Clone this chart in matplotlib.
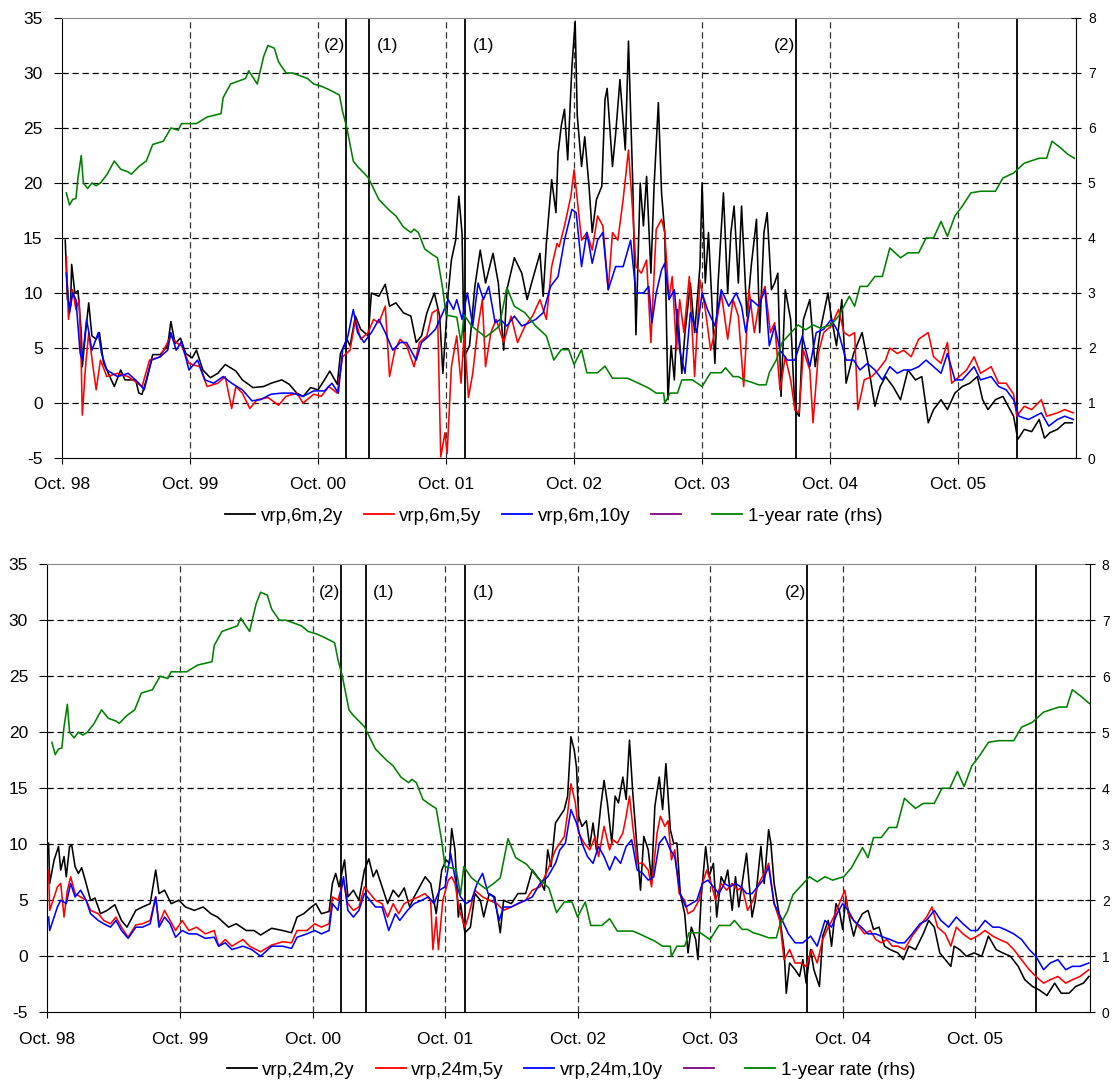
import matplotlib
matplotlib.use('Agg')
import matplotlib.pyplot as plt
from matplotlib.lines import Line2D

plt.rcParams['font.family'] = ['Liberation Sans', 'DejaVu Sans']
plt.rcParams['axes.unicode_minus'] = False

# time axis: months since Oct. 1998
month_ticks = [0, 12, 24, 36, 48, 60, 72, 84]
month_labels = ['Oct. 98', 'Oct. 99', 'Oct. 00', 'Oct. 01', 'Oct. 02', 'Oct. 03', 'Oct. 04', 'Oct. 05']
events = [26.6, 28.8, 37.8, 68.8, 89.5]
event_tags = ['(2)', '(1)', '(1)', '(2)', '']

# 1-year rate, right axis (%)
rate_1y = [(0.4,4.82),(0.7,4.6),(1.0,4.7),(1.3,4.72),(1.5,5.1),(1.8,5.5),(2.0,5.0),(2.4,4.9),(2.8,5.0),(3.2,4.95),
           (3.6,5.0),(4.2,5.15),(4.9,5.4),(5.5,5.25),(6.2,5.2),(6.5,5.16),(7.2,5.3),(7.9,5.4),(8.5,5.7),(9.5,5.76),
           (10.2,6.0),(10.9,5.96),(11.2,6.08),(12.6,6.08),(13.6,6.2),(14.9,6.26),(15.1,6.55),(15.8,6.8),(16.5,6.85),
           (17.2,6.9),(17.5,7.04),(18.3,6.8),(18.9,7.3),(19.3,7.5),(19.9,7.45),(20.3,7.2),(21.0,7.0),(21.6,7.0),
           (23.0,6.9),(23.6,6.8),(24.3,6.76),(25.0,6.7),(26.0,6.6),(26.3,6.3),(26.7,6.0),(27.3,5.4),(27.7,5.3),
           (28.7,5.1),(29.2,4.9),(29.7,4.7),(30.7,4.5),(31.3,4.4),(32.0,4.2),(32.7,4.1),(33.0,4.16),(33.4,4.1),
           (34.0,3.8),(34.7,3.7),(35.2,3.64),(35.7,3.06),(36.0,2.6),(37.0,2.56),(37.4,2.1),(37.7,2.6),(38.4,2.4),
           (39.7,2.2),(40.4,2.3),(41.0,2.4),(41.7,3.1),(42.4,2.76),(43.4,2.64),(44.4,2.4),(45.4,2.22),(46.1,1.78),
           (46.8,1.97),(47.5,1.97),(48.0,1.7),(48.7,1.97),(49.2,1.55),(50.2,1.55),(50.9,1.67),(51.6,1.45),(53.0,1.45),
           (53.6,1.4),(55.0,1.27),(55.7,1.18),(56.4,1.18),(56.5,1.0),(57.0,1.18),(57.7,1.18),(58.1,1.42),(59.1,1.42),
           (60.0,1.3),(60.8,1.55),(61.8,1.55),(62.2,1.64),(62.9,1.48),(63.4,1.48),(63.9,1.42),(64.6,1.38),(65.3,1.33),
           (66.0,1.33),(66.3,1.55),(67.0,1.8),(67.5,2.1),(68.3,2.27),(69.0,2.42),(69.7,2.33),(70.4,2.42),(71.1,2.36),
           (72.1,2.42),(72.8,2.58),(73.8,2.94),(74.3,2.76),(74.8,3.12),(75.5,3.12),(76.2,3.3),(76.9,3.3),(77.6,3.82),
           (78.6,3.64),(79.3,3.73),(80.3,3.73),(81.0,4.0),(81.7,4.0),(82.4,4.3),(83.0,4.03),(83.7,4.4),(84.4,4.58),
           (85.2,4.82),(86.1,4.85),(87.5,4.85),(88.2,5.09),(89.2,5.18),(90.2,5.36),(91.6,5.45),(92.3,5.45),(92.8,5.76),
           (93.6,5.64),(94.3,5.52),(94.9,5.45)]

# vrp, 6-month horizon
vrp_6m_2y = [(0.3,14.8),(0.5,9.4),(0.8,8.8),(0.9,12.6),(1.2,10.0),(1.5,10.2),(1.8,6.4),(1.9,3.3),(2.2,6.4),(2.5,9.1),
             (2.8,6.1),(3.2,5.8),(3.5,6.4),(3.9,3.6),(4.2,3.0),(4.9,1.5),(5.5,3.0),(5.9,2.1),(6.9,2.1),(7.2,0.9),
             (7.5,0.8),(7.9,2.1),(8.5,4.4),(9.2,4.4),(9.9,5.2),(10.2,7.4),(10.6,5.4),(11.1,5.9),(11.6,4.5),(12.2,4.1),
             (12.6,4.8),(13.2,3.0),(13.9,2.3),(14.6,2.7),(15.3,3.5),(16.3,2.9),(16.9,2.1),(17.9,1.4),(18.9,1.5),
             (19.6,1.8),(20.6,2.1),(21.3,1.7),(22.0,0.9),(22.6,0.6),(23.3,1.4),(24.0,1.2),(24.6,2.1),(25.1,2.9),
             (25.8,1.7),(26.1,4.5),(26.7,5.8),(27.0,5.2),(27.5,7.9),(28.0,6.7),(28.7,6.1),(29.0,10.0),(29.7,9.7),
             (30.3,10.8),(30.7,8.8),(31.3,9.1),(32.0,8.2),(32.7,7.9),(33.2,5.5),(33.7,6.1),(34.2,8.2),(34.9,10.0),
             (35.4,7.9),(35.7,2.7),(36.2,10.0),(36.5,13.0),(36.9,14.8),(37.2,18.8),(37.5,15.4),(37.7,4.2),(38.2,5.2),
             (38.7,10.6),(39.2,13.9),(39.7,10.9),(40.4,13.6),(40.9,10.9),(41.4,4.8),(41.7,10.3),(42.4,13.2),(43.1,11.8),
             (43.6,9.4),(44.1,11.2),(44.8,13.6),(45.1,9.7),(45.4,14.5),(45.9,20.3),(46.3,17.3),(46.5,22.7),(46.8,25.2),
             (47.1,26.7),(47.4,22.1),(47.8,30.6),(48.1,34.7),(48.3,26.1),(48.7,21.5),(49.0,24.2),(49.4,19.7),(49.7,15.5),
             (50.1,18.5),(50.6,19.7),(50.9,27.6),(51.1,28.6),(51.6,21.5),(51.9,24.5),(52.3,29.4),(52.8,23.0),(53.1,32.9),
             (53.5,20.0),(53.8,6.2),(54.2,20.0),(54.5,16.1),(54.8,20.6),(55.2,11.8),(55.5,19.7),(55.9,27.3),(56.2,19.1),
             (56.5,15.5),(56.8,0.3),(57.1,5.2),(57.4,2.1),(57.7,8.5),(58.1,2.7),(58.4,6.4),(58.9,10.9),(59.3,6.4),
             (59.8,12.4),(60.0,20.0),(60.3,10.9),(60.6,15.5),(61.2,3.6),(61.5,10.9),(62.0,19.1),(62.4,10.0),(62.7,15.5),
             (63.0,17.9),(63.4,10.9),(63.7,17.9),(64.2,7.9),(64.6,12.4),(65.1,16.7),(65.4,6.4),(65.8,15.5),(66.1,17.3),
             (66.5,10.3),(66.8,10.9),(67.1,11.8),(67.4,0.6),(67.8,10.3),(68.3,7.6),(68.7,-0.6),(69.1,-1.2),(69.5,7.6),
             (70.1,9.4),(70.6,3.3),(71.1,6.7),(71.8,10.0),(72.1,7.9),(72.6,5.2),(73.1,9.4),(73.5,1.8),(74.2,4.5),
             (75.0,6.4),(75.5,3.9),(76.2,-0.3),(76.7,1.5),(77.2,2.4),(77.9,1.5),(78.6,0.3),(79.3,3.0),(80.0,2.1),
             (80.6,2.4),(81.2,-1.8),(81.7,-0.6),(82.4,0.3),(83.0,-0.6),(83.7,0.9),(84.4,1.5),(85.1,1.8),(85.8,2.4),
             (86.3,0.3),(86.8,-0.6),(87.5,0.3),(88.2,0.6),(88.7,-0.3),(89.2,-1.2),(89.6,-3.3),(90.2,-2.4),(90.9,-2.6),
             (91.6,-1.5),(92.1,-3.2),(92.6,-2.7),(93.3,-2.4),(94.0,-1.8),(94.7,-1.8)]

vrp_6m_5y = [(0.4,13.3),(0.6,7.6),(1.0,10.3),(1.3,8.5),(1.6,9.4),(1.8,3.6),(1.9,-1.1),(2.2,3.3),(2.5,6.4),(2.9,3.3),
             (3.2,1.2),(3.6,3.9),(4.2,2.4),(5.2,2.7),(6.2,2.4),(7.5,1.5),(8.2,3.9),(9.2,4.2),(10.2,6.1),(10.7,5.5),
             (11.2,5.2),(11.9,3.6),(12.9,3.3),(13.6,1.5),(14.6,1.8),(15.3,2.4),(15.9,-0.5),(16.3,1.5),(16.9,0.9),
             (17.6,-0.5),(18.3,0.3),(19.3,0.5),(20.3,-0.2),(21.0,0.6),(22.0,0.9),(22.6,0.0),(23.6,0.8),(24.3,0.6),
             (25.0,1.5),(25.8,0.9),(26.3,4.2),(27.0,4.8),(27.5,7.6),(28.0,5.8),(28.7,6.4),(29.2,7.6),(29.7,7.3),
             (30.3,8.8),(30.7,2.4),(31.2,4.8),(31.7,5.8),(32.3,5.2),(33.0,3.3),(33.5,5.5),(34.2,6.1),(34.7,8.2),
             (35.2,8.5),(35.5,-4.9),(35.9,-2.7),(36.1,-4.6),(36.5,3.3),(37.0,6.1),(37.4,1.8),(37.7,6.4),(38.1,0.5),
             (38.5,2.7),(39.0,7.0),(39.4,9.4),(39.7,3.3),(40.2,6.4),(40.7,7.6),(41.4,5.5),(42.1,7.9),(42.7,5.5),
             (43.4,7.0),(44.1,7.9),(44.8,9.4),(45.4,7.6),(45.9,12.4),(46.4,14.5),(46.6,14.2),(47.1,16.1),(47.7,18.8),
             (48.0,21.2),(48.3,18.5),(48.7,14.8),(49.2,15.5),(49.7,13.9),(50.2,17.0),(50.7,16.1),(51.2,10.3),(51.6,15.5),
             (52.1,14.8),(52.6,18.5),(53.1,23.0),(53.5,17.3),(53.8,12.4),(54.3,11.8),(54.8,13.0),(55.2,5.5),(55.7,15.8),
             (56.2,16.7),(56.5,15.5),(56.9,9.4),(57.2,11.5),(57.6,4.8),(57.9,9.4),(58.3,6.4),(58.8,11.5),(59.3,2.4),
             (59.8,11.2),(60.3,8.5),(60.8,4.8),(61.3,7.0),(61.8,10.0),(62.4,5.8),(62.9,9.4),(63.4,7.9),(63.9,1.5),
             (64.4,10.3),(64.9,6.4),(65.4,9.4),(65.9,10.6),(66.4,6.4),(66.8,7.3),(67.3,1.2),(67.8,4.2),(68.3,2.1),
             (68.7,-0.6),(69.1,-0.9),(69.5,4.8),(70.1,3.0),(70.4,-1.8),(70.9,4.5),(71.4,6.4),(72.1,7.0),(72.8,8.5),
             (73.3,6.4),(73.8,6.1),(74.3,6.4),(74.6,-0.6),(75.2,2.1),(75.9,2.4),(76.5,3.0),(77.2,3.9),(77.6,5.0),
             (78.3,4.5),(78.9,4.8),(79.6,4.2),(80.3,5.8),(81.2,6.4),(81.7,4.2),(82.4,3.6),(83.0,5.5),(83.4,1.8),
             (84.1,2.4),(84.8,3.0),(85.5,4.2),(86.1,2.7),(87.1,3.3),(87.8,1.8),(88.5,1.8),(89.2,0.8),(89.5,-1.2),
             (90.2,-0.3),(90.9,-0.6),(91.8,0.3),(92.3,-1.2),(93.3,-0.9),(94.0,-0.6),(94.8,-0.9)]

vrp_6m_10y = [(0.4,11.8),(0.7,8.2),(1.0,10.0),(1.3,9.4),(1.7,4.5),(1.9,3.9),(2.3,7.6),(2.8,4.8),(3.4,6.4),(3.7,4.5),
              (4.2,3.0),(5.2,2.4),(6.2,2.7),(7.2,1.8),(7.7,1.2),(8.4,3.9),(9.2,4.2),(9.9,4.8),(10.2,6.4),(10.7,4.8),
              (11.2,5.6),(11.9,3.0),(12.7,3.9),(13.4,2.1),(14.2,1.8),(15.1,2.4),(15.9,1.8),(16.9,1.2),(17.8,0.2),
              (18.6,0.3),(19.6,0.8),(20.6,0.9),(21.6,0.9),(22.6,0.6),(23.6,1.1),(24.6,1.1),(25.3,1.8),(25.9,0.9),
              (26.3,4.8),(26.8,6.1),(27.3,8.5),(27.7,6.4),(28.3,5.5),(29.0,6.4),(29.7,7.6),(30.3,6.4),(31.0,4.8),
              (31.7,5.5),(32.3,5.5),(33.2,3.9),(33.7,5.5),(34.4,6.1),(35.0,6.7),(35.7,8.2),(36.2,9.4),(36.7,8.5),
              (37.0,9.4),(37.5,7.6),(38.0,10.0),(38.5,7.0),(39.0,10.9),(39.5,9.4),(40.0,10.6),(40.6,7.3),(41.1,7.6),
              (41.7,7.0),(42.4,7.9),(43.1,7.0),(43.8,7.3),(44.4,7.6),(45.1,8.2),(45.8,10.6),(46.5,11.5),(47.1,14.8),
              (47.8,17.6),(48.2,17.3),(48.7,12.4),(49.2,15.5),(49.7,12.7),(50.2,14.8),(50.7,15.5),(51.2,10.3),(51.9,12.4),
              (52.6,12.4),(53.3,14.8),(53.8,10.0),(54.5,10.0),(55.0,10.6),(55.3,7.3),(55.7,10.0),(56.2,12.1),(56.5,12.7),
              (56.9,9.4),(57.4,10.3),(57.9,4.8),(58.4,2.7),(58.9,8.2),(59.5,6.4),(60.0,10.0),(60.5,8.5),(61.2,7.0),
              (61.8,10.3),(62.5,8.8),(63.2,10.0),(63.7,8.8),(64.1,6.4),(64.6,9.4),(65.3,8.8),(65.9,10.3),(66.3,5.2),
              (66.8,7.0),(67.3,4.8),(68.0,3.9),(68.7,3.9),(69.4,6.1),(70.1,3.3),(70.7,6.4),(71.4,6.7),(72.1,7.6),
              (72.8,6.4),(73.5,3.9),(74.2,3.9),(74.8,3.0),(75.5,3.6),(76.2,3.0),(76.9,2.1),(77.6,3.3),(78.3,2.7),
              (78.9,3.0),(79.6,3.0),(80.3,3.3),(81.0,3.9),(81.7,3.3),(82.4,2.7),(83.0,4.5),(83.7,2.1),(84.4,2.1),
              (85.5,3.3),(86.1,2.1),(87.1,2.4),(87.8,1.5),(88.5,1.2),(89.2,0.3),(89.7,-1.2),(90.6,-1.5),(91.8,-0.9),
              (92.5,-2.1),(93.3,-1.5),(94.0,-1.2),(94.8,-1.5)]

# vrp, 24-month horizon
vrp_24m_2y = [(0.1,10.1),(0.2,6.5),(0.6,8.6),(0.9,9.5),(1.0,9.8),(1.2,7.7),(1.5,8.9),(1.7,7.1),(2.0,9.8),(2.2,9.9),
              (2.5,8.0),(2.8,7.4),(3.1,7.9),(3.5,6.5),(3.9,5.0),(4.3,5.2),(4.8,3.8),(5.4,4.1),(6.1,4.6),(6.7,3.2),
              (7.2,2.6),(8.0,4.1),(8.6,4.4),(9.3,4.7),(9.8,7.7),(10.1,5.6),(10.6,5.9),(11.2,4.7),(11.9,5.0),(12.5,4.4),
              (13.3,4.1),(14.1,4.4),(14.8,3.8),(15.4,3.5),(16.4,2.6),(17.1,2.9),(18.0,2.3),(18.7,2.3),(19.3,1.9),
              (20.3,2.5),(21.3,2.3),(22.1,2.1),(22.6,3.5),(23.2,3.8),(23.9,4.4),(24.3,4.7),(24.8,3.8),(25.5,4.0),
              (25.8,6.5),(26.1,7.4),(26.4,6.2),(26.9,8.6),(27.2,5.3),(27.7,5.9),(28.2,5.0),(28.7,7.7),(29.1,8.7),
              (29.5,7.1),(29.8,7.7),(30.3,6.2),(30.8,4.7),(31.3,5.9),(31.8,5.3),(32.3,6.1),(32.8,4.4),(33.2,5.3),
              (33.7,6.2),(34.2,7.1),(34.7,6.5),(35.2,3.8),(35.7,7.7),(36.1,8.6),(36.4,8.3),(36.6,11.4),(36.9,9.5),
              (37.2,3.5),(37.4,4.7),(37.8,2.1),(38.3,2.6),(38.7,5.6),(39.2,5.0),(39.5,3.5),(40.0,5.6),(40.5,5.3),
              (41.0,2.1),(41.3,5.0),(42.0,4.7),(42.6,5.6),(43.3,5.6),(43.9,7.7),(44.6,6.8),(45.0,5.9),(45.3,9.5),
              (45.6,8.0),(46.0,11.9),(46.4,12.5),(46.8,13.1),(47.1,14.3),(47.4,19.6),(47.7,18.4),(47.9,16.9),(48.1,12.5),
              (48.4,11.6),(48.8,12.1),(49.1,9.8),(49.4,11.9),(49.7,9.5),(50.1,13.4),(50.4,15.7),(50.7,13.7),(51.1,10.1),
              (51.4,14.3),(51.7,13.7),(52.1,16.0),(52.4,14.0),(52.7,19.3),(53.0,14.6),(53.4,9.5),(53.7,5.9),(54.0,10.7),
              (54.4,9.5),(54.7,6.8),(55.0,13.4),(55.4,16.0),(55.7,13.1),(56.0,17.2),(56.4,11.3),(56.7,10.1),(57.0,10.1),
              (57.3,5.6),(57.7,3.8),(58.0,0.3),(58.3,2.6),(58.7,1.5),(58.9,-0.3),(59.2,5.3),(59.6,9.8),(59.9,7.1),
              (60.3,8.3),(60.6,3.5),(61.0,7.1),(61.3,6.5),(61.6,7.7),(62.0,4.1),(62.3,7.1),(62.6,4.4),(62.9,6.5),
              (63.3,9.2),(63.8,3.5),(64.1,5.0),(64.6,9.8),(64.9,6.5),(65.3,11.3),(65.5,10.1),(65.8,6.5),(66.3,3.5),
              (66.7,0.6),(66.9,-3.3),(67.2,-0.6),(67.7,-1.2),(68.1,-1.8),(68.4,-0.3),(68.7,-2.4),(69.1,0.6),(69.4,-1.2),
              (69.9,-2.7),(70.2,1.8),(70.7,3.2),(71.0,0.9),(71.4,4.7),(71.7,4.1),(72.0,2.4),(72.3,5.3),(72.6,3.5),
              (73.0,1.8),(73.3,2.9),(73.8,3.8),(74.3,4.1),(74.8,2.4),(75.3,2.6),(75.8,0.9),(76.3,0.6),(77.0,0.3),
              (77.5,-0.3),(78.0,0.9),(78.6,0.6),(79.3,2.0),(79.8,3.2),(80.3,2.6),(80.8,0.3),(81.3,-0.3),(81.8,-0.9),
              (82.1,0.9),(82.6,0.6),(83.2,0.0),(83.9,0.3),(84.6,0.0),(85.2,1.8),(85.9,0.6),(86.5,0.3),(87.2,0.0),
              (87.9,-0.9),(88.5,-2.1),(89.2,-2.7),(89.8,-3.0),(90.5,-3.5),(91.2,-2.4),(91.8,-3.3),(92.5,-3.3),
              (93.1,-2.7),(93.8,-2.4),(94.3,-1.8)]

vrp_24m_5y = [(0.1,7.7),(0.2,4.1),(0.6,5.3),(0.9,6.2),(1.2,6.5),(1.5,3.5),(1.8,5.9),(2.1,7.1),(2.5,5.6),(3.0,5.3),
              (3.5,5.0),(3.9,4.1),(4.6,3.8),(5.1,3.2),(5.7,2.9),(6.2,3.5),(6.7,2.6),(7.3,1.7),(8.0,2.8),(8.6,2.9),
              (9.3,3.2),(9.8,5.3),(10.1,2.9),(10.6,4.1),(11.1,3.2),(11.6,2.3),(12.2,3.2),(12.8,2.3),(13.5,2.6),
              (14.3,2.0),(15.1,2.3),(15.5,0.9),(16.1,1.5),(16.7,0.9),(17.7,1.5),(18.3,0.9),(19.3,0.4),(20.3,1.0),
              (21.3,1.3),(22.1,1.2),(22.6,2.3),(23.5,2.3),(24.2,2.9),(24.8,2.6),(25.5,2.9),(25.8,5.3),(26.3,5.0),
              (26.8,6.8),(27.2,4.7),(27.7,4.1),(28.2,4.4),(28.7,6.2),(29.2,5.6),(29.7,5.0),(30.3,4.7),(30.8,3.5),
              (31.3,4.7),(31.8,3.8),(32.3,4.7),(32.9,5.0),(33.6,5.3),(34.2,5.6),(34.7,5.0),(34.9,0.6),(35.2,3.5),
              (35.4,0.6),(35.8,5.0),(36.3,6.8),(36.6,7.1),(36.9,6.5),(37.3,4.1),(37.8,2.6),(38.1,3.5),(38.7,5.9),
              (39.4,5.3),(40.0,5.0),(40.7,4.7),(41.3,4.1),(42.0,4.4),(42.6,4.7),(43.3,5.0),(43.9,5.9),(44.6,6.2),
              (45.3,7.7),(46.0,9.5),(46.4,10.1),(46.8,10.7),(47.1,12.8),(47.4,15.4),(47.8,13.7),(48.1,11.0),(48.6,10.1),
              (49.1,9.5),(49.6,10.7),(49.9,8.9),(50.4,11.6),(50.9,9.5),(51.2,10.4),(51.6,10.1),(52.1,11.0),(52.4,12.5),
              (52.7,14.3),(53.0,11.6),(53.4,8.3),(53.9,8.3),(54.4,7.7),(54.7,6.2),(55.2,11.0),(55.5,12.5),(55.9,11.6),
              (56.2,12.1),(56.5,8.6),(56.8,9.5),(57.2,5.6),(57.7,5.0),(58.0,3.8),(58.5,4.1),(59.0,5.0),(59.3,6.5),
              (59.7,7.7),(60.1,6.5),(60.5,5.0),(61.0,6.5),(61.5,5.9),(62.0,6.5),(62.5,5.9),(62.9,6.2),(63.4,4.1),
              (63.9,5.0),(64.4,6.5),(64.9,7.4),(65.3,8.3),(65.8,4.7),(66.3,3.2),(66.7,-0.3),(67.2,0.6),(67.7,-0.6),
              (68.2,-0.6),(68.7,-0.9),(69.2,0.6),(69.7,-0.6),(70.2,1.5),(70.7,2.6),(71.2,3.5),(71.7,4.7),(72.2,5.9),
              (72.5,3.8),(73.0,3.2),(73.5,2.6),(74.0,2.0),(74.5,2.3),(75.0,1.5),(75.5,1.2),(76.0,1.5),(76.5,0.9),
              (77.0,0.9),(77.6,0.6),(78.3,1.8),(78.9,2.6),(79.6,3.5),(80.1,4.4),(80.6,2.6),(81.3,2.0),(81.8,0.9),
              (82.3,2.6),(82.9,2.0),(83.6,1.5),(84.2,1.8),(84.9,2.3),(85.6,1.8),(86.2,1.5),(86.9,1.2),(87.5,0.6),
              (88.2,-0.3),(88.9,-1.2),(89.5,-1.8),(90.2,-2.4),(90.8,-2.1),(91.5,-1.8),(92.2,-2.4),(92.8,-2.1),
              (93.5,-1.8),(94.3,-1.2)]

vrp_24m_10y = [(0.1,3.5),(0.2,2.3),(0.6,3.5),(0.9,4.4),(1.2,5.0),(1.7,4.7),(2.1,6.5),(2.5,5.3),(3.0,5.9),(3.5,5.0),
               (3.9,3.8),(4.6,3.2),(5.1,2.9),(5.7,2.6),(6.2,3.2),(6.7,2.3),(7.3,1.6),(8.0,2.6),(8.6,2.6),(9.3,2.9),
               (9.8,5.3),(10.1,2.6),(10.6,3.5),(11.1,2.9),(11.6,1.7),(12.2,2.3),(12.8,2.0),(13.5,2.0),(14.3,1.6),
               (15.1,1.7),(15.5,0.9),(16.1,1.2),(16.7,0.6),(17.7,0.9),(18.5,0.6),(19.3,0.0),(20.3,0.9),(21.3,0.9),
               (22.1,0.7),(22.6,1.7),(23.5,2.0),(24.2,2.3),(24.8,2.0),(25.5,2.3),(25.8,4.7),(26.3,4.1),(26.8,7.1),
               (27.2,4.1),(27.7,3.5),(28.2,4.1),(28.7,5.6),(29.2,5.0),(29.7,4.4),(30.3,4.4),(30.9,2.3),(31.5,3.8),
               (31.9,3.2),(32.6,4.1),(33.2,4.7),(33.9,5.0),(34.5,5.3),(35.0,4.7),(35.5,5.9),(36.0,6.2),(36.5,9.2),
               (37.0,6.5),(37.4,5.3),(37.9,4.7),(38.4,5.0),(38.9,6.5),(39.4,7.4),(39.9,5.6),(40.4,5.3),(40.9,3.2),
               (41.3,4.4),(42.0,4.4),(42.6,4.7),(43.3,5.0),(43.9,5.3),(44.6,6.5),(45.3,7.1),(46.0,8.3),(46.4,9.5),
               (46.9,10.1),(47.4,13.1),(47.9,11.9),(48.4,10.1),(48.9,8.9),(49.4,8.3),(49.9,9.8),(50.4,8.9),(50.9,7.7),
               (51.4,8.9),(51.9,8.3),(52.4,9.8),(52.9,10.4),(53.4,7.7),(53.9,7.4),(54.4,6.8),(54.9,7.1),(55.4,10.1),
               (55.9,10.7),(56.4,9.5),(56.8,8.9),(57.3,5.6),(57.8,4.4),(58.3,4.7),(58.8,5.0),(59.3,6.5),(59.8,6.8),
               (60.3,6.2),(60.8,5.6),(61.3,6.5),(61.8,6.2),(62.3,6.5),(62.8,6.2),(63.3,5.6),(63.8,5.6),(64.3,6.2),
               (64.8,6.8),(65.3,8.0),(65.8,4.7),(66.4,3.5),(67.1,2.0),(67.7,1.2),(68.4,1.2),(69.1,1.8),(69.7,0.9),
               (70.4,3.2),(71.0,2.6),(71.5,3.8),(72.0,4.7),(72.5,4.1),(73.0,3.2),(73.7,2.6),(74.3,2.0),(75.0,2.0),
               (75.7,1.7),(76.3,1.5),(77.0,1.2),(77.6,1.2),(78.3,2.0),(79.0,2.9),(79.6,3.2),(80.3,4.1),(80.9,3.2),
               (81.6,2.6),(82.3,3.5),(82.9,2.9),(83.6,2.3),(84.2,2.3),(84.9,3.2),(85.6,2.6),(86.2,2.6),(86.9,2.3),
               (87.5,2.0),(88.2,1.5),(88.9,0.6),(89.5,0.0),(90.2,-1.2),(90.8,-0.6),(91.5,-0.3),(92.2,-1.2),(92.8,-0.9),
               (93.5,-0.9),(94.3,-0.6)]


def unzip(pairs):
    return [p[0] for p in pairs], [p[1] for p in pairs]


fig = plt.figure(figsize=(11.12, 10.83), dpi=100)


def panel(rect, xmax, series, names, legend_xy):
    ax = fig.add_axes(rect)
    ax.set_xlim(0, xmax)
    ax.set_ylim(-5, 35)
    ax.set_yticks(range(-5, 36, 5))
    ax.set_xticks(month_ticks)
    ax.set_xticklabels(month_labels)
    ax.tick_params(axis='y', direction='out', length=6, pad=8, labelsize=12.5)
    ax.tick_params(axis='x', direction='out', length=4, pad=10, labelsize=12.5)

    for v in range(0, 31, 5):
        ax.axhline(v, color='black', lw=0.9, ls=(0, (5, 3)), zorder=1)
    for m in month_ticks[1:]:
        ax.axvline(m, color='#333333', lw=0.9, ls=(0, (5, 3)), zorder=1)
    for e, tag in zip(events, event_tags):
        ax.axvline(e, color='black', lw=1.3, zorder=2)
        if tag == '(2)':
            ax.text(e - 0.1, 32.5, tag, ha='right', va='center', fontsize=12.5)
        elif tag == '(1)':
            ax.text(e + 0.7, 32.5, tag, ha='left', va='center', fontsize=12.5)

    colors = ['black', '#ff0000', '#0000ff']
    for pairs, c in zip(series, colors):
        x, y = unzip(pairs)
        ax.plot(x, y, color=c, lw=1.15, zorder=3)

    for s in ['left', 'bottom']:
        ax.spines[s].set_color('black')
    ax.spines['top'].set_color('#888888')
    ax.spines['right'].set_visible(False)

    ax2 = ax.twinx()
    ax2.set_ylim(0, 8)
    ax2.set_yticks(range(0, 9))
    x, y = unzip(rate_1y)
    ax2.plot(x, y, color='#008000', lw=1.15)
    ax2.tick_params(axis='y', direction='inout', length=7, pad=5, labelsize=10)
    for s in ['left', 'bottom', 'top']:
        ax2.spines[s].set_visible(False)

    handles = [Line2D([], [], color='black', lw=1.3),
               Line2D([], [], color='#ff0000', lw=1.3),
               Line2D([], [], color='#0000ff', lw=1.3),
               Line2D([], [], color='#800080', lw=1.3),
               Line2D([], [], color='#008000', lw=1.3)]
    fig.legend(handles, names + [' ', '1-year rate (rhs)'], loc='center', bbox_to_anchor=legend_xy,
               ncol=5, frameon=False, prop={'size': 13.5},
               handlelength=1.6, handletextpad=0.3, columnspacing=1.1)


panel([0.0558, 0.5771, 0.9119, 0.4063], 95.06, [vrp_6m_2y, vrp_6m_5y, vrp_6m_10y],
      ['vrp,6m,2y', 'vrp,6m,5y', 'vrp,6m,10y'], (0.498, 0.5235))
panel([0.0427, 0.0653, 0.9375, 0.4137], 94.4, [vrp_24m_2y, vrp_24m_5y, vrp_24m_10y],
      ['vrp,24m,2y', 'vrp,24m,5y', 'vrp,24m,10y'], (0.5135, 0.012))

fig.savefig('out.png', dpi=100)
